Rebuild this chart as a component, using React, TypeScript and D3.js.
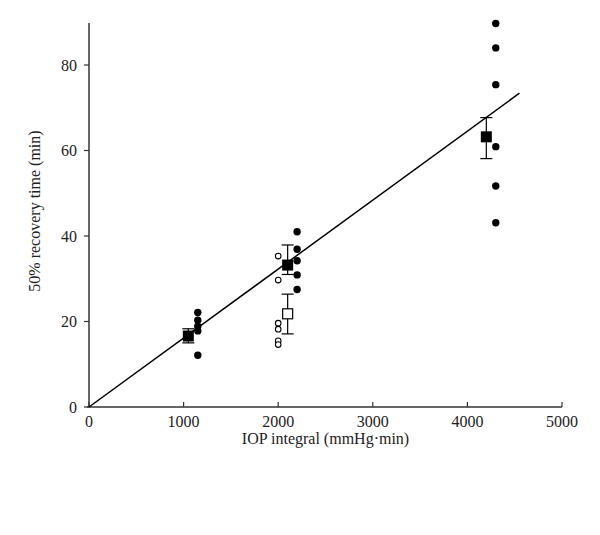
import React from "react";
import * as d3 from "d3";

const xTicks = [0, 1000, 2000, 3000, 4000, 5000];
const yTicks = [0, 20, 40, 60, 80];

// individual points
const filledX = [1150, 1150, 1150, 1150, 1150, 2200, 2200, 2200, 2200, 2200, 4300, 4300, 4300, 4300, 4300, 4300];
const filledY = [22.1, 20.3, 18.9, 17.8, 12.1, 41.0, 36.9, 34.2, 30.9, 27.5, 89.7, 84.0, 75.4, 60.9, 51.7, 43.1];
const openX = [2000, 2000, 2000, 2000, 2000, 2000];
const openY = [35.3, 29.7, 19.6, 18.2, 15.5, 14.6];

// group means with error bars
const meanX = [1050, 2100, 4200];
const meanY = [16.6, 33.2, 63.2];
const meanLo = [15.0, 31.0, 58.1];
const meanHi = [18.3, 37.9, 67.7];
const openMeanX = [2100];
const openMeanY = [21.8];
const openMeanLo = [17.1];
const openMeanHi = [26.4];

// regression line endpoints
const lineX = [0, 4550];
const lineY = [0, 73.4];

const W = 600;
const H = 535;
const left = 89;
const right = 562;
const top = 23;
const bottom = 407;

export default function App() {
  const x = d3.scaleLinear().domain([0, 5000]).range([left, right]);
  const y = d3.scaleLinear().domain([0, 80]).range([bottom, 65]);
  const yTop = y.invert(top);
  const line = d3.line<number>().x((d) => x(lineX[d])).y((d) => y(lineY[d]))([0, 1]) || "";
  const font = "'Liberation Serif', 'DejaVu Serif', serif";
  const axisColor = "#333";
  const cap = 6;
  const sq = 11;

  return (
    <svg width={W} height={H} style={{ position: "absolute", left: 0, top: 0, background: "#fff" }} fontFamily={font}>
      <rect x={0} y={0} width={W} height={H} fill="#fff" />
      {/* axes */}
      <line x1={x(0)} x2={x(0)} y1={y(yTop)} y2={y(0)} stroke={axisColor} strokeWidth={1.5} />
      <line x1={x(0) - 2} x2={x(5000)} y1={y(0)} y2={y(0)} stroke={axisColor} strokeWidth={1.5} />
      {yTicks.map((t) => (
        <g key={"y" + t}>
          <line x1={x(0) - 5} x2={x(0)} y1={y(t)} y2={y(t)} stroke={axisColor} strokeWidth={1.2} />
          <text x={x(0) - 12} y={y(t)} dy="0.35em" textAnchor="end" fontSize={16} fill="#222">
            {t}
          </text>
        </g>
      ))}
      {xTicks.map((t) => (
        <g key={"x" + t}>
          <line x1={x(t)} x2={x(t)} y1={y(0) - 5} y2={y(0)} stroke={axisColor} strokeWidth={1.2} />
          <text x={x(t)} y={427} textAnchor="middle" fontSize={16} fill="#222">
            {t}
          </text>
        </g>
      ))}
      <text x={(left + right) / 2} y={444} textAnchor="middle" fontSize={16} fill="#222">
        IOP integral (mmHg·min)
      </text>
      <text
        transform={`translate(40, 211) rotate(-90)`}
        textAnchor="middle"
        fontSize={16}
        fill="#222"
      >
        50% recovery time (min)
      </text>

      {/* regression line */}
      <path d={line} fill="none" stroke="#000" strokeWidth={1.5} />

      {/* error bars */}
      {meanX.map((mx, i) => (
        <g key={"eb" + i} stroke="#000" strokeWidth={1.2}>
          <line x1={x(mx)} x2={x(mx)} y1={y(meanLo[i])} y2={y(meanHi[i])} />
          <line x1={x(mx) - cap} x2={x(mx) + cap} y1={y(meanLo[i])} y2={y(meanLo[i])} />
          <line x1={x(mx) - cap} x2={x(mx) + cap} y1={y(meanHi[i])} y2={y(meanHi[i])} />
        </g>
      ))}
      {openMeanX.map((mx, i) => (
        <g key={"oeb" + i} stroke="#000" strokeWidth={1.2}>
          <line x1={x(mx)} x2={x(mx)} y1={y(openMeanLo[i])} y2={y(openMeanHi[i])} />
          <line x1={x(mx) - cap} x2={x(mx) + cap} y1={y(openMeanLo[i])} y2={y(openMeanLo[i])} />
          <line x1={x(mx) - cap} x2={x(mx) + cap} y1={y(openMeanHi[i])} y2={y(openMeanHi[i])} />
        </g>
      ))}

      {/* means */}
      {meanX.map((mx, i) => (
        <rect key={"m" + i} x={x(mx) - sq / 2} y={y(meanY[i]) - sq / 2} width={sq} height={sq} fill="#000" />
      ))}
      {openMeanX.map((mx, i) => (
        <rect
          key={"om" + i}
          x={x(mx) - sq / 2 + 0.5}
          y={y(openMeanY[i]) - sq / 2 + 0.5}
          width={sq - 1}
          height={sq - 1}
          fill="#fff"
          stroke="#000"
          strokeWidth={1.2}
        />
      ))}

      {/* individual points */}
      {filledX.map((px, i) => (
        <circle key={"f" + i} cx={x(px)} cy={y(filledY[i])} r={3.7} fill="#000" />
      ))}
      {openX.map((px, i) => (
        <circle key={"o" + i} cx={x(px)} cy={y(openY[i])} r={2.8} fill="#fff" stroke="#000" strokeWidth={1.1} />
      ))}
    </svg>
  );
}
